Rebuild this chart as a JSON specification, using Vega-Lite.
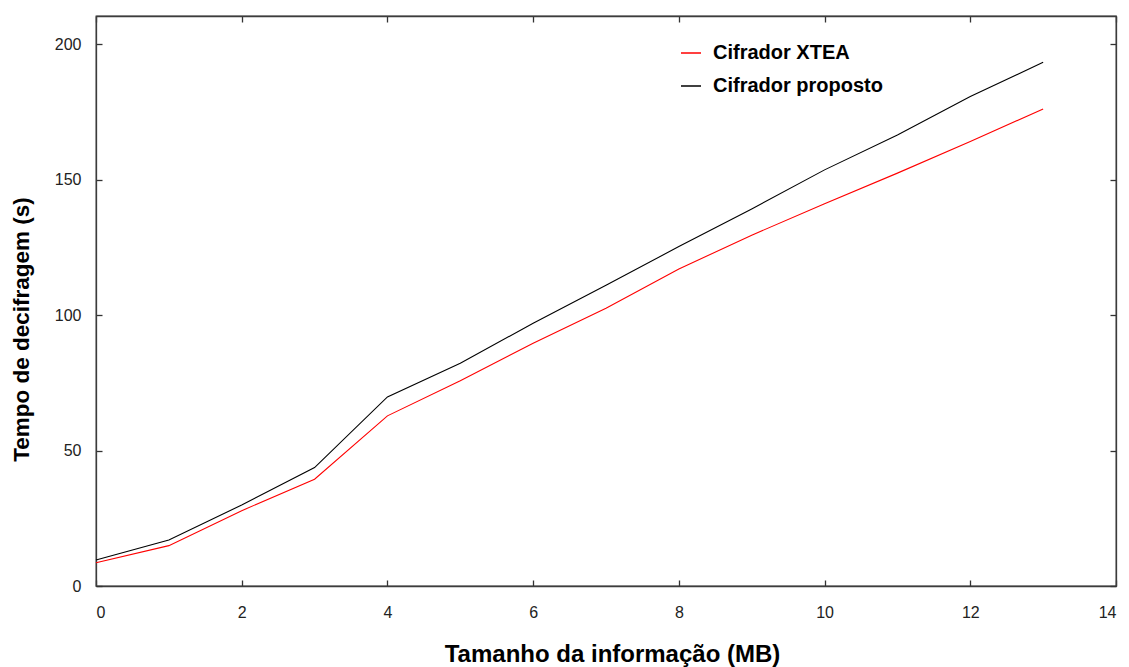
{
  "$schema": "https://vega.github.io/schema/vega-lite/v6.json",
  "width": 1020,
  "height": 570,
  "autosize": "none",
  "padding": {"left": 96, "top": 16, "right": 13, "bottom": 81},
  "background": "white",
  "config": {
    "font": "Liberation Sans",
    "view": {"stroke": "#3c3c3c", "strokeWidth": 1.3},
    "axis": {"grid": false}
  },
  "data": {
    "values": [
      {"x": 0, "t": 8.6, "serie": "Cifrador XTEA"},
      {"x": 1, "t": 14.9, "serie": "Cifrador XTEA"},
      {"x": 2, "t": 27.8, "serie": "Cifrador XTEA"},
      {"x": 3, "t": 39.4, "serie": "Cifrador XTEA"},
      {"x": 4, "t": 62.8, "serie": "Cifrador XTEA"},
      {"x": 5, "t": 75.8, "serie": "Cifrador XTEA"},
      {"x": 6, "t": 89.6, "serie": "Cifrador XTEA"},
      {"x": 7, "t": 102.5, "serie": "Cifrador XTEA"},
      {"x": 8, "t": 117.0, "serie": "Cifrador XTEA"},
      {"x": 9, "t": 129.5, "serie": "Cifrador XTEA"},
      {"x": 10, "t": 141.1, "serie": "Cifrador XTEA"},
      {"x": 11, "t": 152.4, "serie": "Cifrador XTEA"},
      {"x": 12, "t": 164.1, "serie": "Cifrador XTEA"},
      {"x": 13, "t": 176.1, "serie": "Cifrador XTEA"},
      {"x": 0, "t": 9.6, "serie": "Cifrador proposto"},
      {"x": 1, "t": 17.0, "serie": "Cifrador proposto"},
      {"x": 2, "t": 29.9, "serie": "Cifrador proposto"},
      {"x": 3, "t": 43.7, "serie": "Cifrador proposto"},
      {"x": 4, "t": 69.8, "serie": "Cifrador proposto"},
      {"x": 5, "t": 82.2, "serie": "Cifrador proposto"},
      {"x": 6, "t": 97.0, "serie": "Cifrador proposto"},
      {"x": 7, "t": 111.0, "serie": "Cifrador proposto"},
      {"x": 8, "t": 125.3, "serie": "Cifrador proposto"},
      {"x": 9, "t": 139.2, "serie": "Cifrador proposto"},
      {"x": 10, "t": 153.6, "serie": "Cifrador proposto"},
      {"x": 11, "t": 166.5, "serie": "Cifrador proposto"},
      {"x": 12, "t": 180.7, "serie": "Cifrador proposto"},
      {"x": 13, "t": 193.3, "serie": "Cifrador proposto"}
    ]
  },
  "layer": [
    {
      "mark": {"type": "line", "strokeWidth": 1.1},
      "encoding": {
        "x": {
          "field": "x", "type": "quantitative",
          "scale": {"domain": [0, 14], "nice": false, "zero": false},
          "axis": {
            "orient": "bottom",
            "values": [0, 2, 4, 6, 8, 10, 12, 14],
            "title": "Tamanho da informação (MB)",
            "titleFont": "Liberation Sans", "titleFontSize": 24, "titleFontWeight": "bold", "titleColor": "#000",
            "titleX": 516, "titleY": 68, "titleBaseline": "middle", "titleAnchor": null, "titleAlign": "center",
            "labelFontSize": 16, "labelColor": "#222", "labelPadding": 24,
            "tickSize": -6, "tickColor": "#333", "tickWidth": 1.3,
            "domainColor": "#3c3c3c", "domainWidth": 1.3
          }
        },
        "y": {
          "field": "t", "type": "quantitative",
          "scale": {"domain": [0, 210.4], "nice": false},
          "axis": {
            "orient": "left",
            "values": [0, 50, 100, 150, 200],
            "title": "Tempo de decifragem (s)",
            "titleFont": "Liberation Sans", "titleFontSize": 22.5, "titleFontWeight": "bold", "titleColor": "#000",
            "titleX": -75, "titleY": 313, "titleBaseline": "middle", "titleAnchor": null, "titleAlign": "center", "titleAngle": -90,
            "labelFontSize": 16, "labelColor": "#222", "labelPadding": 21,
            "tickSize": -6, "tickColor": "#333", "tickWidth": 1.3,
            "domainColor": "#3c3c3c", "domainWidth": 1.3
          }
        },
        "color": {
          "field": "serie", "type": "nominal",
          "scale": {"domain": ["Cifrador XTEA", "Cifrador proposto"], "range": ["#ff0000", "#000000"]},
          "legend": {
            "title": null,
            "orient": "none",
            "legendX": 584,
            "legendY": 26,
            "symbolType": "stroke",
            "symbolSize": 400,
            "symbolStrokeWidth": 1.5,
            "labelFont": "Liberation Sans",
            "labelFontSize": 20,
            "labelFontWeight": "bold",
            "labelColor": "#000",
            "labelOffset": 11,
            "labelLimit": 400,
            "rowPadding": 12
          }
        }
      }
    },
    {
      "mark": {"type": "point", "opacity": 0},
      "encoding": {
        "x": {
          "field": "x", "type": "quantitative",
          "scale": {"domain": [0, 14], "nice": false, "zero": false},
          "axis": {
            "orient": "top", "values": [0, 2, 4, 6, 8, 10, 12, 14], "title": null,
            "labels": false, "tickSize": -6, "tickColor": "#333", "tickWidth": 1.3,
            "domainColor": "#3c3c3c", "domainWidth": 1.3
          }
        },
        "y": {
          "field": "t", "type": "quantitative",
          "scale": {"domain": [0, 210.4], "nice": false},
          "axis": {
            "orient": "right", "values": [0, 50, 100, 150, 200], "title": null,
            "labels": false, "tickSize": -6, "tickColor": "#333", "tickWidth": 1.3,
            "domainColor": "#3c3c3c", "domainWidth": 1.3
          }
        }
      }
    }
  ],
  "resolve": {"axis": {"x": "independent", "y": "independent"}}
}
